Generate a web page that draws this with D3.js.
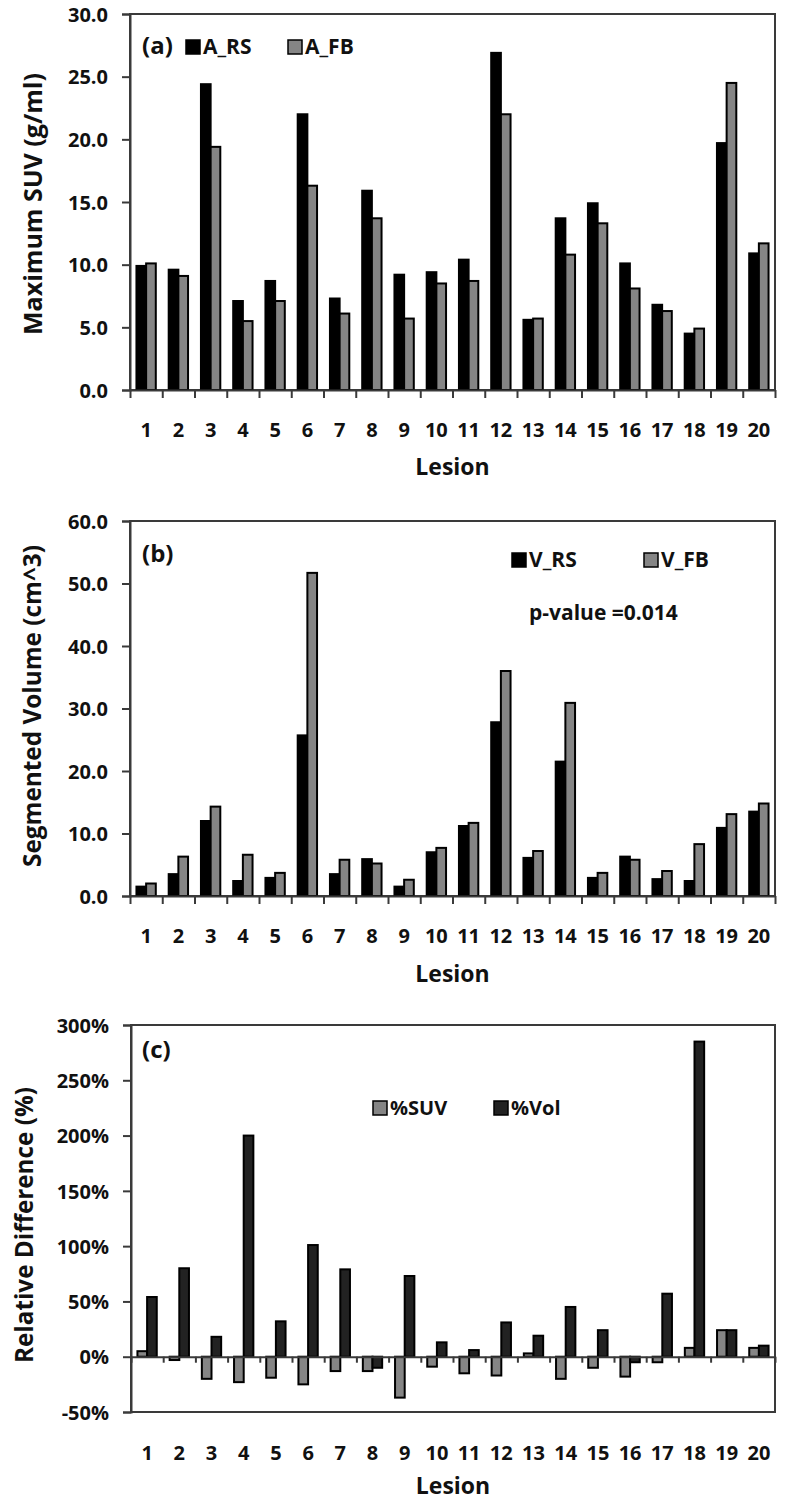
<!DOCTYPE html>
<html>
<head>
<meta charset="utf-8">
<script src="https://cdn.jsdelivr.net/npm/d3@7/dist/d3.min.js"></script>
<style>
  html, body { margin: 0; padding: 0; background: #fff; }
  svg { display: block; }
  text { font-family: "Open Sans", "DejaVu Sans", sans-serif; font-weight: 700; fill: #111; }
</style>
</head>
<body>
<script>
// ---------- data ----------
const lesions = ["1","2","3","4","5","6","7","8","9","10","11","12","13","14","15","16","17","18","19","20"];
const A_RS = [9.9, 9.6, 24.4, 7.1, 8.7, 22.0, 7.3, 15.9, 9.2, 9.4, 10.4, 26.9, 5.6, 13.7, 14.9, 10.1, 6.8, 4.5, 19.7, 10.9];
const A_FB = [10.1, 9.1, 19.4, 5.5, 7.1, 16.3, 6.1, 13.7, 5.7, 8.5, 8.7, 22.0, 5.7, 10.8, 13.3, 8.1, 6.3, 4.9, 24.5, 11.7];
const V_RS = [1.5, 3.5, 12.0, 2.4, 2.9, 25.7, 3.5, 5.9, 1.5, 7.0, 11.2, 27.8, 6.1, 21.5, 2.9, 6.3, 2.7, 2.4, 10.9, 13.5];
const V_FB = [2.0, 6.3, 14.3, 6.6, 3.7, 51.7, 5.8, 5.2, 2.6, 7.7, 11.7, 36.0, 7.2, 30.9, 3.7, 5.8, 4.0, 8.3, 13.1, 14.8];
const pctSUV = [5, -3, -20, -23, -19, -25, -13, -13, -37, -9, -15, -17, 3, -20, -10, -18, -5, 8, 24, 8];
const pctVol = [54, 80, 18, 200, 32, 101, 79, -10, 73, 13, 6, 31, 19, 45, 24, -5, 57, 285, 24, 10];

const ticksA = [0, 5, 10, 15, 20, 25, 30];
const ticksB = [0, 10, 20, 30, 40, 50, 60];
const ticksC = [-50, 0, 50, 100, 150, 200, 250, 300];

const W = 786, H = 1502;
const svg = d3.select("body").append("svg").attr("width", W).attr("height", H);

const AXIS = "#3a3a3a";

function panel(cfg) {
  const g = svg.append("g");
  const L = cfg.left, R = 775, T = cfg.top, B = cfg.bottom;
  const x0 = d3.scaleBand().domain(lesions).range([L, R]).padding(0);
  const bw = x0.bandwidth();
  const x1 = d3.scaleBand().domain(cfg.series.map(s => s.name)).range([bw * 0.2, bw * 0.8]).padding(0);
  const y = d3.scaleLinear().domain(cfg.domain).range([B, T]);
  const xl = d3.scaleLinear().domain([0, lesions.length]).range([L, R]);

  // frame
  g.append("rect").attr("x", L).attr("y", T).attr("width", R - L).attr("height", B - T)
    .attr("fill", "none").attr("stroke", AXIS).attr("stroke-width", 2);

  // y axis
  const ya = g.append("g").attr("transform", `translate(${L},0)`)
    .call(d3.axisLeft(y).tickValues(cfg.ticks).tickFormat(cfg.fmt).tickSize(8).tickPadding(14));
  ya.select(".domain").attr("stroke", AXIS).attr("stroke-width", 2);
  ya.selectAll(".tick line").attr("stroke", AXIS).attr("stroke-width", 2);
  ya.selectAll(".tick text").style("font-size", "20px").attr("fill", "#111").attr("dy", "0.36em");

  // bars
  cfg.series.forEach(s => {
    g.append("g").selectAll("rect").data(s.values).join("rect")
      .attr("x", (d, i) => x0(lesions[i]) + x1(s.name))
      .attr("y", d => y(Math.max(0, d)))
      .attr("width", x1.bandwidth())
      .attr("height", d => Math.abs(y(d) - y(0)))
      .attr("fill", s.fill).attr("stroke", "#000").attr("stroke-width", 2);
  });

  // baseline x axis with category boundary ticks
  const zeroY = y(0);
  const xa = g.append("g").attr("transform", `translate(0,${zeroY})`)
    .call(d3.axisBottom(xl).tickValues(d3.range(0, lesions.length + 1)).tickFormat("").tickSize(cfg.xTick).tickSizeOuter(0));
  xa.select(".domain").attr("stroke", AXIS).attr("stroke-width", 2);
  xa.selectAll(".tick line").attr("stroke", AXIS).attr("stroke-width", 2);

  // category labels
  const lab = g.append("g").attr("transform", `translate(0,${cfg.labelAxisY})`)
    .call(d3.axisBottom(x0).tickSize(0).tickPadding(0));
  lab.select(".domain").remove();
  lab.selectAll(".tick text").attr("y", 0).attr("dy", cfg.labelBase).style("font-size", "20px").attr("fill", "#111");

  // x title
  g.append("text").attr("x", (L + R) / 2).attr("y", cfg.labelAxisY + cfg.titleOff)
    .attr("text-anchor", "middle").style("font-size", "23px").text("Lesion");

  // y title
  g.append("text")
    .attr("transform", `translate(${cfg.yTitleX},${cfg.yTitleY}) rotate(-90)`)
    .attr("text-anchor", "middle").style("font-size", "25px")
    .attr("textLength", cfg.yTitleLen).attr("lengthAdjust", "spacingAndGlyphs")
    .text(cfg.yTitle);

  // panel tag
  g.append("text").attr("x", 142).attr("y", cfg.tagY).style("font-size", "24px").text(cfg.tag);

  // legend
  cfg.legend.forEach(l => {
    g.append("rect").attr("x", l.x).attr("y", l.y).attr("width", 14).attr("height", 14)
      .attr("fill", l.fill).attr("stroke", "#000").attr("stroke-width", 1.5);
    g.append("text").attr("x", l.x + 17).attr("y", l.y + 14).style("font-size", l.size + "px").text(l.name);
  });
  return { g, x0, y };
}

// Panel (a)
panel({
  left: 130, top: 14, bottom: 390, domain: [0, 30], ticks: ticksA, fmt: d3.format(".1f"),
  series: [{ name: "A_RS", values: A_RS, fill: "#000" }, { name: "A_FB", values: A_FB, fill: "#858585" }],
  xTick: 8, labelAxisY: 390, labelBase: 47, titleOff: 85,
  yTitle: "Maximum SUV (g/ml)", yTitleX: 42, yTitleY: 204, yTitleLen: 262,
  tag: "(a)", tagY: 54,
  legend: [{ name: "A_RS", x: 186, y: 40, fill: "#000", size: 21 }, { name: "A_FB", x: 288, y: 40, fill: "#858585", size: 21 }]
});

// Panel (b)
const pb = panel({
  left: 130, top: 521, bottom: 896, domain: [0, 60], ticks: ticksB, fmt: d3.format(".1f"),
  series: [{ name: "V_RS", values: V_RS, fill: "#000" }, { name: "V_FB", values: V_FB, fill: "#858585" }],
  xTick: 8, labelAxisY: 896, labelBase: 47, titleOff: 86,
  yTitle: "Segmented Volume (cm^3)", yTitleX: 41, yTitleY: 706, yTitleLen: 322,
  tag: "(b)", tagY: 562,
  legend: [{ name: "V_RS", x: 512, y: 553, fill: "#000", size: 21 }, { name: "V_FB", x: 644, y: 553, fill: "#858585", size: 21 }]
});
pb.g.append("text").attr("x", 529).attr("y", 620).style("font-size", "21px").text("p-value =0.014");

// Panel (c)
panel({
  left: 131, top: 1025, bottom: 1412, domain: [-50, 300], ticks: ticksC, fmt: d => d + "%",
  series: [{ name: "%SUV", values: pctSUV, fill: "#858585" }, { name: "%Vol", values: pctVol, fill: "#222" }],
  xTick: 6, labelAxisY: 1412, labelBase: 48, titleOff: 82,
  yTitle: "Relative Difference (%)", yTitleX: 33, yTitleY: 1225, yTitleLen: 276,
  tag: "(c)", tagY: 1058,
  legend: [{ name: "%SUV", x: 373, y: 1101, fill: "#858585", size: 20 }, { name: "%Vol", x: 494, y: 1101, fill: "#222", size: 20 }]
});
</script>
</body>
</html>
